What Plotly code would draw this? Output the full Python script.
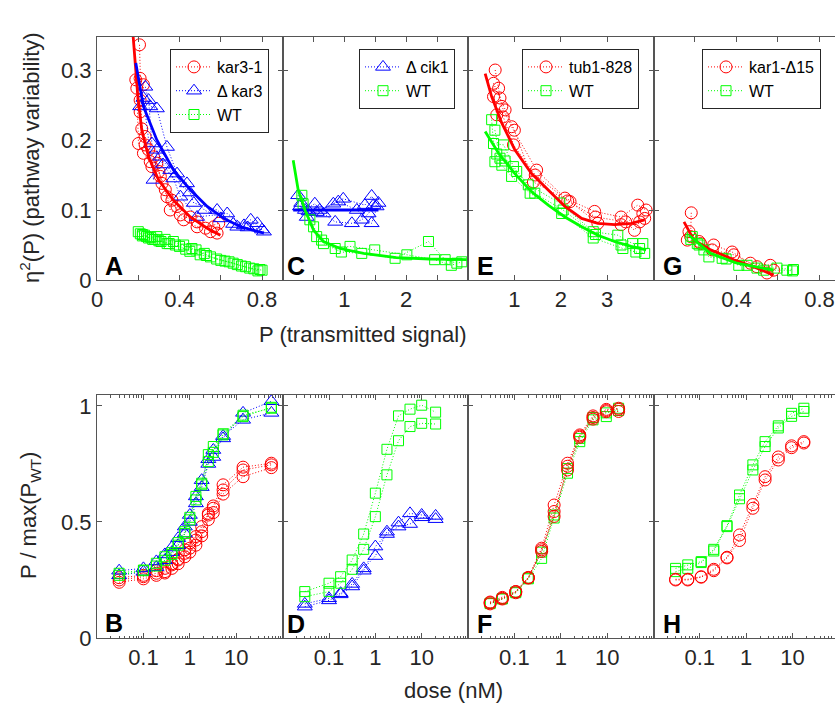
import plotly.graph_objects as go

# ---------------- DATA ----------------
# Panel A (eta^2 vs P): kar3-1, delta kar3, WT
A_kar31_P = [[0.206, 0.209, 0.217, 0.233, 0.25, 0.274, 0.307, 0.339, 0.388, 0.452, 0.526, 0.59],
             [0.188, 0.193, 0.201, 0.225, 0.258, 0.29, 0.315, 0.363, 0.404, 0.485, 0.55, 0.582],
             [0.209, 0.225, 0.209, 0.233, 0.266, 0.3, 0.331, 0.355, 0.42, 0.485, 0.566]]
A_kar31_E = [[0.336, 0.288, 0.216, 0.205, 0.186, 0.176, 0.148, 0.119, 0.105, 0.09, 0.074, 0.081],
             [0.286, 0.274, 0.195, 0.181, 0.169, 0.167, 0.138, 0.114, 0.093, 0.083, 0.069, 0.067],
             [0.257, 0.279, 0.24, 0.193, 0.162, 0.155, 0.129, 0.1, 0.086, 0.076, 0.076]]
A_dkar3_P = [[0.234, 0.258, 0.29, 0.339, 0.388, 0.436, 0.469, 0.582, 0.68, 0.745, 0.809],
             [0.209, 0.25, 0.266, 0.307, 0.355, 0.404, 0.485, 0.631, 0.712, 0.777],
             [0.225, 0.274, 0.29, 0.32, 0.37, 0.45, 0.52, 0.6, 0.66, 0.73, 0.8]]
A_dkar3_E = [[0.276, 0.248, 0.245, 0.19, 0.152, 0.138, 0.11, 0.1, 0.076, 0.086, 0.069],
             [0.248, 0.257, 0.195, 0.176, 0.157, 0.119, 0.09, 0.095, 0.078, 0.081],
             [0.26, 0.143, 0.186, 0.165, 0.145, 0.125, 0.1, 0.088, 0.08, 0.075, 0.072]]
A_wt_P = [[0.21, 0.23, 0.26, 0.29, 0.33, 0.37, 0.42, 0.46, 0.52, 0.58, 0.64, 0.70, 0.76, 0.80],
          [0.2, 0.22, 0.25, 0.28, 0.31, 0.35, 0.4, 0.45, 0.5, 0.55, 0.62, 0.68, 0.74, 0.79],
          [0.22, 0.24, 0.27, 0.3, 0.34, 0.38, 0.43, 0.48, 0.53, 0.6, 0.66, 0.72, 0.78]]
A_wt_E = [[0.066, 0.064, 0.061, 0.062, 0.058, 0.055, 0.05, 0.045, 0.038, 0.03, 0.026, 0.02, 0.016, 0.014],
          [0.069, 0.065, 0.06, 0.058, 0.055, 0.052, 0.048, 0.041, 0.036, 0.033, 0.027, 0.022, 0.017, 0.015],
          [0.063, 0.062, 0.058, 0.056, 0.052, 0.05, 0.044, 0.043, 0.035, 0.028, 0.024, 0.019, 0.013]]
A_fit_kar31_P = [0.172, 0.177, 0.185, 0.198, 0.217, 0.25, 0.298, 0.371, 0.452, 0.534, 0.598]
A_fit_kar31_E = [0.36, 0.343, 0.31, 0.262, 0.214, 0.176, 0.143, 0.114, 0.09, 0.074, 0.064]
A_fit_dkar3_P = [0.188, 0.225, 0.29, 0.371, 0.452, 0.534, 0.615, 0.696, 0.809]
A_fit_dkar3_E = [0.31, 0.248, 0.2, 0.157, 0.129, 0.105, 0.088, 0.076, 0.067]

# Panel C: delta cik1, WT
C_dcik1_P = [[0.25, 0.39, 0.55, 0.82, 0.98, 1.33, 1.44, 1.52],
             [0.3, 0.36, 0.52, 0.66, 0.85, 1.12, 1.28, 1.39, 1.47],
             [0.28, 0.42, 0.6, 0.9, 1.2, 1.44, 1.55]]
C_dcik1_E = [[0.121, 0.09, 0.097, 0.109, 0.116, 0.107, 0.12, 0.105],
             [0.11, 0.1, 0.109, 0.095, 0.083, 0.081, 0.086, 0.095, 0.107],
             [0.105, 0.098, 0.1, 0.112, 0.1, 0.081, 0.11]]
C_wt_P = [[0.31, 0.44, 0.55, 0.66, 0.95, 1.28, 1.82, 2.36, 2.63, 2.82],
          [0.33, 0.5, 0.63, 0.85, 1.09, 1.49, 2.01, 2.46, 2.73, 2.9]]
C_wt_E = [[0.121, 0.086, 0.062, 0.052, 0.04, 0.038, 0.031, 0.055, 0.029, 0.024],
          [0.109, 0.076, 0.057, 0.045, 0.048, 0.043, 0.036, 0.029, 0.021, 0.026]]
C_fit_dcik1_P = [0.17, 1.55]
C_fit_dcik1_E = [0.1, 0.1]
C_fit_wt_P = [0.17, 0.25, 0.36, 0.5, 0.66, 0.93, 1.31, 1.84, 2.38, 2.98]
C_fit_wt_E = [0.171, 0.129, 0.1, 0.071, 0.055, 0.045, 0.038, 0.032, 0.03, 0.029]

# Panel E: tub1-828, WT
E_tub_P = [[0.586, 0.66, 0.73, 0.94, 1.48, 2.09, 2.73, 3.3, 3.66, 3.84],
           [0.55, 0.69, 0.8, 1.0, 1.41, 2.2, 2.8, 3.3, 3.77, 3.81],
           [0.55, 0.62, 0.76, 0.98, 1.45, 2.15, 2.75, 3.4, 3.59, 3.7]]
E_tub_E = [[0.3, 0.274, 0.248, 0.219, 0.157, 0.117, 0.098, 0.09, 0.107, 0.1],
           [0.281, 0.26, 0.243, 0.214, 0.14, 0.112, 0.081, 0.079, 0.095, 0.088],
           [0.262, 0.236, 0.233, 0.193, 0.15, 0.113, 0.09, 0.083, 0.071, 0.083]]
E_wt_P = [[0.51, 0.55, 0.77, 0.98, 1.3, 1.98, 2.7, 3.23, 3.55, 3.77],
          [0.58, 0.69, 0.73, 0.94, 1.34, 2.02, 2.7, 3.34, 3.62, 3.81],
          [0.58, 0.62, 0.8, 1.05, 1.44, 2.05, 2.75, 3.3, 3.7]]
E_wt_E = [[0.229, 0.195, 0.193, 0.162, 0.136, 0.11, 0.069, 0.064, 0.052, 0.052],
          [0.214, 0.174, 0.164, 0.148, 0.124, 0.095, 0.06, 0.045, 0.04, 0.038],
          [0.169, 0.18, 0.17, 0.155, 0.124, 0.1, 0.065, 0.05, 0.045]]
E_fit_tub_P = [0.37, 0.51, 0.73, 1.01, 1.37, 1.73, 2.09, 2.45, 2.8, 3.16, 3.52, 3.81]
E_fit_tub_E = [0.295, 0.262, 0.224, 0.186, 0.152, 0.129, 0.105, 0.088, 0.081, 0.079, 0.081, 0.086]
E_fit_wt_P = [0.37, 0.66, 1.01, 1.37, 1.73, 2.09, 2.45, 2.8, 3.16, 3.52, 3.84]
E_fit_wt_E = [0.212, 0.181, 0.152, 0.126, 0.107, 0.09, 0.076, 0.064, 0.055, 0.048, 0.043]

# Panel G: kar1-delta15, WT
G_kar1_P = [[0.182, 0.179, 0.227, 0.29, 0.379, 0.467, 0.563],
            [0.171, 0.163, 0.22, 0.283, 0.387, 0.499, 0.579, 0.547]]
G_kar1_E = [[0.096, 0.062, 0.052, 0.05, 0.04, 0.024, 0.021],
            [0.069, 0.057, 0.055, 0.043, 0.036, 0.019, 0.014, 0.01]]
G_wt_P = [[0.187, 0.211, 0.243, 0.331, 0.411, 0.499, 0.595, 0.675],
          [0.18, 0.22, 0.267, 0.35, 0.451, 0.531, 0.643, 0.67]]
G_wt_E = [[0.062, 0.052, 0.043, 0.031, 0.021, 0.017, 0.017, 0.015],
          [0.058, 0.05, 0.033, 0.03, 0.021, 0.014, 0.014, 0.013]]
G_fit_kar1_P = [0.147, 0.195, 0.275, 0.387, 0.499, 0.579]
G_fit_kar1_E = [0.083, 0.057, 0.043, 0.029, 0.017, 0.007]
G_fit_wt_P = [0.171, 0.275, 0.403, 0.515, 0.579]
G_fit_wt_E = [0.064, 0.038, 0.024, 0.017, 0.014]

# Panel B: dose response (kar3-1, delta kar3, WT)
B_dose = [0.03, 0.1, 0.19, 0.29, 0.41, 0.56, 0.78, 1.0, 1.35, 1.8, 2.5, 3.2, 5.2, 14, 57]
B_kar31 = [[0.25, 0.264, 0.279, 0.286, 0.315, 0.336, 0.365, 0.387, 0.422, 0.458, 0.53, 0.559, 0.638, 0.724, 0.746],
           [0.24, 0.255, 0.27, 0.28, 0.30, 0.32, 0.35, 0.37, 0.40, 0.44, 0.51, 0.54, 0.62, 0.695, 0.734],
           [0.26, 0.27, 0.29, 0.30, 0.32, 0.34, 0.38, 0.41, 0.437, 0.48, 0.537, 0.569, 0.66, 0.736, 0.753]]
B_dkar3 = [[0.29, 0.30, 0.33, 0.36, 0.39, 0.43, 0.48, 0.53, 0.61, 0.68, 0.77, 0.81, 0.86, 0.97, 1.02],
           [0.27, 0.285, 0.305, 0.335, 0.37, 0.40, 0.45, 0.50, 0.58, 0.65, 0.75, 0.78, 0.87, 0.94, 0.97]]
B_wt = [[0.279, 0.293, 0.322, 0.35, 0.368, 0.411, 0.458, 0.509, 0.595, 0.66, 0.76, 0.825, 0.875, 0.954, 0.994],
        [0.27, 0.29, 0.31, 0.335, 0.36, 0.40, 0.45, 0.52, 0.61, 0.667, 0.79, 0.80, 0.88, 0.96, 0.99]]

# Panel D: delta cik1, WT
D_dose = [0.03, 0.1, 0.178, 0.316, 0.56, 1.0, 1.78, 3.16, 5.6, 10, 20]
D_dcik1 = [[0.147, 0.171, 0.193, 0.233, 0.3, 0.353, 0.458, 0.497, 0.537, 0.53, 0.526],
           [0.135, 0.162, 0.188, 0.222, 0.29, 0.394, 0.448, 0.48, 0.491, 0.52, 0.512]]
D_wt = [[0.2, 0.236, 0.264, 0.336, 0.448, 0.624, 0.813, 0.957, 0.986, 1.003, 0.973],
        [0.178, 0.2, 0.236, 0.296, 0.382, 0.523, 0.703, 0.85, 0.911, 0.925, 0.922]]

# Panels F and H
FH_dose = [0.03, 0.055, 0.107, 0.2, 0.387, 0.72, 1.4, 2.57, 4.96, 9.6, 17.7]
F_tub = [[0.152, 0.171, 0.2, 0.261, 0.387, 0.573, 0.753, 0.875, 0.957, 0.98, 0.99],
         [0.147, 0.168, 0.195, 0.258, 0.373, 0.545, 0.724, 0.865, 0.943, 0.975, 0.976],
         [0.155, 0.175, 0.2, 0.26, 0.38, 0.524, 0.74, 0.87, 0.95, 0.985, 0.985]]
F_wt = [[0.15, 0.168, 0.195, 0.255, 0.343, 0.517, 0.71, 0.846, 0.94, 0.954, 0.99],
        [0.148, 0.17, 0.198, 0.258, 0.37, 0.53, 0.73, 0.86, 0.95, 0.97, 0.98]]
H_kar1 = [[0.253, 0.253, 0.264, 0.296, 0.348, 0.444, 0.575, 0.695, 0.78, 0.828, 0.846],
          [0.25, 0.25, 0.262, 0.29, 0.345, 0.42, 0.559, 0.681, 0.767, 0.82, 0.84]]
H_wt = [[0.3, 0.315, 0.329, 0.382, 0.484, 0.616, 0.746, 0.846, 0.914, 0.968, 0.99],
        [0.286, 0.30, 0.325, 0.375, 0.48, 0.60, 0.724, 0.825, 0.905, 0.955, 0.976]]

# Tick values / labels
top_ticks = [([0, 0.4, 0.8], ["0", "0.4", "0.8"], [0.2, 0.6]),
             ([1, 2], ["1", "2"], [0.5, 1.5, 2.5]),
             ([1, 2, 3], ["1", "2", "3"], []),
             ([0.4, 0.8], ["0.4", "0.8"], [0.2, 0.6])]
dose_ticks = [0.1, 1, 10]
dose_ticktext = ["0.1", "1", "10"]

# Labels
panel_letters = ["A", "C", "E", "G", "B", "D", "F", "H"]
name_kar31, name_dkar3, name_wt = "kar3-1", "Δ kar3", "WT"
name_dcik1, name_tub, name_kar1 = "Δ cik1", "tub1-828", "kar1-Δ15"

# ---------------- STYLE ----------------
W, H = 835, 705
RED, BLUE, GREEN = "#ff0000", "#0000ff", "#00ff00"
FONT = "Arial, Liberation Sans, sans-serif"
TXT = "#262626"
AX = "#555555"
DOT = "1px,2px"


def px(x):
    return x / W


def py(y):
    return 1 - y / H


XD = [(97, 282.7), (282.7, 468), (468, 653.5), (653.5, 835)]
XRANGE_TOP = [[0, 0.9], [0, 3], [0, 4], [0, 0.875]]
YD_TOP = (36.7, 280)
YD_BOT = (395, 638)

MK = {"o": dict(symbol="circle-open", size=12),
      "^": dict(symbol="triangle-up-open", size=13),
      "s": dict(symbol="square-open", size=10)}

fig = go.Figure()


def ax_names(k):
    s = "" if k == 1 else str(k)
    return "x" + s, "y" + s


def add_series(k, xs_list, ys_list, color, mk, name, legend, single_x=None):
    xa, ya = ax_names(k)
    for i, ys in enumerate(ys_list):
        xs = single_x if single_x is not None else xs_list[i]
        m = dict(MK[mk])
        m.update(color=color, line=dict(width=1, color=color))
        fig.add_trace(go.Scatter(
            x=xs, y=ys, mode="lines+markers", name=name,
            line=dict(color=color, width=1, dash=DOT), marker=m,
            xaxis=xa, yaxis=ya,
            showlegend=(i == 0 and legend is not None), legendgroup=name + str(k),
            legend=legend if legend else "legend"))


def add_fit(k, xs, ys, color):
    xa, ya = ax_names(k)
    fig.add_trace(go.Scatter(
        x=xs, y=ys, mode="lines", line=dict(color=color, width=2.8),
        xaxis=xa, yaxis=ya, showlegend=False, hoverinfo="skip"))


# Panel A
add_series(1, A_kar31_P, A_kar31_E, RED, "o", name_kar31, "legend")
add_series(1, A_dkar3_P, A_dkar3_E, BLUE, "^", name_dkar3, "legend")
add_series(1, A_wt_P, A_wt_E, GREEN, "s", name_wt, "legend")
add_fit(1, A_fit_kar31_P, A_fit_kar31_E, RED)
add_fit(1, A_fit_dkar3_P, A_fit_dkar3_E, BLUE)
# Panel C
add_series(2, C_dcik1_P, C_dcik1_E, BLUE, "^", name_dcik1, "legend2")
add_series(2, C_wt_P, C_wt_E, GREEN, "s", name_wt, "legend2")
add_fit(2, C_fit_dcik1_P, C_fit_dcik1_E, BLUE)
add_fit(2, C_fit_wt_P, C_fit_wt_E, GREEN)
# Panel E
add_series(3, E_tub_P, E_tub_E, RED, "o", name_tub, "legend3")
add_series(3, E_wt_P, E_wt_E, GREEN, "s", name_wt, "legend3")
add_fit(3, E_fit_tub_P, E_fit_tub_E, RED)
add_fit(3, E_fit_wt_P, E_fit_wt_E, GREEN)
# Panel G
add_series(4, G_kar1_P, G_kar1_E, RED, "o", name_kar1, "legend4")
add_series(4, G_wt_P, G_wt_E, GREEN, "s", name_wt, "legend4")
add_fit(4, G_fit_kar1_P, G_fit_kar1_E, RED)
add_fit(4, G_fit_wt_P, G_fit_wt_E, GREEN)
# Panel B
add_series(5, None, B_kar31, RED, "o", name_kar31, None, B_dose)
add_series(5, None, B_dkar3, BLUE, "^", name_dkar3, None, B_dose)
add_series(5, None, B_wt, GREEN, "s", name_wt, None, B_dose)
# Panel D
add_series(6, None, D_dcik1, BLUE, "^", name_dcik1, None, D_dose)
add_series(6, None, D_wt, GREEN, "s", name_wt, None, D_dose)
# Panel F
add_series(7, None, F_wt, GREEN, "s", name_wt, None, FH_dose)
add_series(7, None, F_tub, RED, "o", name_tub, None, FH_dose)
# Panel H
add_series(8, None, H_wt, GREEN, "s", name_wt, None, FH_dose)
add_series(8, None, H_kar1, RED, "o", name_kar1, None, FH_dose)

tickfont = dict(family=FONT, size=22, color=TXT)
base_axis = dict(showline=True, linecolor=AX, linewidth=1, ticks="inside", ticklen=5,
                 tickcolor=AX, tickwidth=1, showgrid=False, zeroline=False,
                 tickfont=tickfont, fixedrange=True, automargin=False)

minor_vals = [m * 10 ** e for e in range(-2, 2) for m in range(2, 10)]
layout = {}
for k in range(1, 9):
    col = (k - 1) % 4
    top = k <= 4
    xn, yn = ax_names(k)
    xa = dict(base_axis)
    xa.update(domain=[px(XD[col][0]), px(XD[col][1])], anchor=yn, mirror="ticks")
    if top:
        tv, tt, mv = top_ticks[col]
        xa.update(range=XRANGE_TOP[col], tickvals=tv, ticktext=tt)
        if mv:
            xa.update(minor=dict(ticks="inside", ticklen=5, tickcolor=AX, tickvals=mv))
    else:
        xa.update(type="log", range=[-2, 2] if col < 3 else [-2, 1.92],
                  tickvals=dose_ticks, ticktext=dose_ticktext,
                  minor=dict(ticks="inside", ticklen=2.5, tickcolor=AX, tickvals=minor_vals))
    ya = dict(base_axis)
    yd = YD_TOP if top else YD_BOT
    ya.update(domain=[py(yd[1]), py(yd[0])], anchor=xn,
              mirror="ticks" if col < 3 else False)
    if top:
        ya.update(range=[0, 0.3476], tickvals=[0, 0.1, 0.2, 0.3], ticktext=["0", "0.1", "0.2", "0.3"])
    else:
        ya.update(range=[0, 1.047], tickvals=[0, 0.5, 1], ticktext=["0", "0.5", "1"])
    if col > 0:
        ya.update(showticklabels=False)
    layout["xaxis" + xn[1:]] = xa
    layout["yaxis" + yn[1:]] = ya

leg_common = dict(bgcolor="white", bordercolor="#262626", borderwidth=1,
                  font=dict(family=FONT, size=16, color="black"), xanchor="left", yanchor="top",
                  itemwidth=36, tracegroupgap=0, itemclick=False, itemdoubleclick=False)
layout["legend"] = dict(leg_common, x=px(170), y=py(49))
layout["legend2"] = dict(leg_common, x=px(359), y=py(49))
layout["legend3"] = dict(leg_common, x=px(522), y=py(49))
layout["legend4"] = dict(leg_common, x=px(702), y=py(49))

annotations = []
letter_pos = [(103, 266), (285, 266), (475, 266), (661, 266),
              (103, 623), (285, 624), (475, 624), (661, 624)]
for t, (lx, ly) in zip(panel_letters, letter_pos):
    annotations.append(dict(text="<b>" + t + "</b>", x=px(lx), y=py(ly), xref="paper", yref="paper",
                            xanchor="left", yanchor="middle", showarrow=False,
                            font=dict(family=FONT, size=25, color="black")))
annotations.append(dict(text="P (transmitted signal)", x=px(362), y=py(334), xref="paper", yref="paper",
                        xanchor="center", yanchor="middle", showarrow=False,
                        font=dict(family=FONT, size=22, color=TXT)))
annotations.append(dict(text="dose (nM)", x=px(453), y=py(690), xref="paper", yref="paper",
                        xanchor="center", yanchor="middle", showarrow=False,
                        font=dict(family=FONT, size=22, color=TXT)))
annotations.append(dict(text="η<sup>2</sup>(P) (pathway variability)", x=px(30), y=py(158),
                        xref="paper", yref="paper", xanchor="center", yanchor="middle",
                        textangle=-90, showarrow=False, font=dict(family=FONT, size=22, color=TXT)))
annotations.append(dict(text="P / max(P<sub>WT</sub>)", x=px(30), y=py(516),
                        xref="paper", yref="paper", xanchor="center", yanchor="middle",
                        textangle=-90, showarrow=False, font=dict(family=FONT, size=22, color=TXT)))

fig.update_layout(width=W, height=H, margin=dict(l=0, r=0, t=0, b=0, autoexpand=False),
                  paper_bgcolor="white", plot_bgcolor="white",
                  annotations=annotations, **layout)
fig.write_html("out.html", config={"displayModeBar": False},
               post_script="document.body.style.margin='0px';document.body.style.overflow='hidden';")
